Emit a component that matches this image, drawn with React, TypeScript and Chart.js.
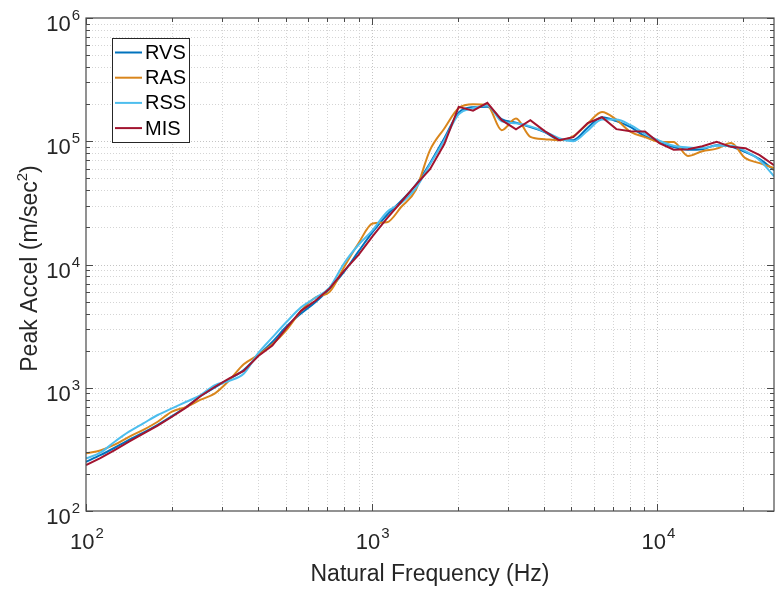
import React, { useEffect, useRef } from "react";
import { Chart, registerables } from "chart.js";

Chart.register(...registerables);

const FONT = "'Liberation Sans', Arial, Helvetica, sans-serif";

// Natural frequencies (Hz), 1/6-octave steps
const freqs = [100, 112.2, 126, 141.4, 158.7, 178.2, 200, 224.5, 252, 282.8, 317.5, 356.4, 400, 449, 504, 565.7, 635, 712.7, 800, 898, 1008, 1131, 1270, 1425, 1600, 1796, 2016, 2263, 2540, 2851, 3200, 3592, 4032, 4525, 5080, 5702, 6400, 7184, 8063, 9051, 10159, 11404, 12800, 14368, 16127, 18102, 20319, 22807, 25600];

// Peak acceleration (m/sec^2)
const rvs = [251, 284, 326, 377, 432, 501, 589, 701, 857, 1008, 1176, 1390, 1818, 2350, 3150, 4000, 4950, 6350, 8700, 12700, 18400, 25200, 32900, 44000, 66400, 105900, 170600, 189100, 190900, 151100, 141600, 130100, 118600, 103000, 102100, 128900, 156700, 145600, 130100, 109900, 99300, 89600, 85500, 86300, 93000, 90400, 81600, 71600, 58300];
const ras = [294, 310, 345, 400, 455, 530, 640, 700, 800, 900, 1150, 1550, 1840, 2250, 2950, 4200, 5400, 6000, 9500, 14800, 21500, 22000, 29400, 40000, 84700, 127000, 186000, 200000, 196000, 123000, 153000, 108600, 104000, 102000, 110000, 139000, 173000, 149700, 119000, 108000, 98900, 98400, 76000, 83100, 87100, 96600, 72900, 66400, 60500];
const rss = [267, 297, 365, 440, 514, 601, 681, 770, 873, 1052, 1140, 1300, 1900, 2560, 3430, 4490, 5370, 6520, 10200, 14400, 19000, 26700, 31600, 41400, 65000, 102000, 165000, 185000, 195000, 145000, 140000, 132000, 120000, 106000, 100000, 122000, 150000, 150000, 135000, 115000, 101000, 92000, 89000, 88000, 92000, 92000, 83000, 70000, 52000];
const mis = [236, 268, 312, 365, 425, 492, 582, 693, 857, 1019, 1191, 1370, 1800, 2200, 3070, 4210, 5080, 6400, 8890, 11900, 17000, 23700, 32300, 44000, 59400, 95000, 190000, 177000, 204800, 148300, 125000, 148300, 120800, 102000, 108000, 140300, 156700, 125400, 120800, 120000, 96600, 85500, 86300, 91200, 98900, 90100, 87900, 77100, 64000];

const seriesNames = ["RVS", "RAS", "RSS", "MIS"];
const seriesColors = ["#0072BD", "#D9861C", "#4DBEEE", "#A2142F"];

const X_MIN = 100;
const X_MAX = 25600;
const Y_MIN = 100;
const Y_MAX = 1000000;
const xDecades = [100, 1000, 10000];
const yDecades = [100, 1000, 10000, 100000, 1000000];
const xDecadeExps = ["2", "3", "4"];
const yDecadeExps = ["2", "3", "4", "5", "6"];
const minorMults = [2, 3, 4, 5, 6, 7, 8, 9];

const xTitle = "Natural Frequency (Hz)";
const yTitleMain = "Peak Accel (m/sec";
const yTitleSup = "2";
const yTitleEnd = ")";

const minorOf = (decades: number[], max: number) => {
  const out: number[] = [];
  decades.forEach((d) => minorMults.forEach((m) => { if (d * m < max) out.push(d * m); }));
  return out;
};
const xMinor = minorOf(xDecades, X_MAX);
const yMinor = minorOf(yDecades, Y_MAX);

const AXIS_COLOR = "#4a4a4a";
const TEXT_COLOR = "#262626";

const matlabPlugin = {
  id: "matlabAxes",
  beforeDatasetsDraw(chart: any) {
    const { ctx, chartArea: a, scales } = chart;
    const x = scales.x, y = scales.y;
    ctx.save();
    ctx.lineWidth = 1;
    ctx.setLineDash([1, 2]);
    const vline = (v: number, c: string) => {
      const px = Math.round(x.getPixelForValue(v)) + 0.5;
      if (px <= a.left + 1 || px >= a.right - 1) return;
      ctx.strokeStyle = c;
      ctx.beginPath(); ctx.moveTo(px, a.top); ctx.lineTo(px, a.bottom); ctx.stroke();
    };
    const hline = (v: number, c: string) => {
      const py = Math.round(y.getPixelForValue(v)) + 0.5;
      if (py <= a.top + 1 || py >= a.bottom - 1) return;
      ctx.strokeStyle = c;
      ctx.beginPath(); ctx.moveTo(a.left, py); ctx.lineTo(a.right, py); ctx.stroke();
    };
    xMinor.forEach((v) => vline(v, "#d4d4d4"));
    yMinor.forEach((v) => hline(v, "#d4d4d4"));
    xDecades.forEach((v) => vline(v, "#c4c4c4"));
    yDecades.forEach((v) => hline(v, "#c4c4c4"));
    ctx.restore();
  },
  afterDatasetsDraw(chart: any) {
    const { ctx, chartArea: a, scales } = chart;
    const x = scales.x, y = scales.y;
    ctx.save();
    // ticks
    ctx.strokeStyle = AXIS_COLOR;
    ctx.lineWidth = 1;
    ctx.setLineDash([]);
    const xt = (v: number, len: number) => {
      const px = Math.round(x.getPixelForValue(v)) + 0.5;
      ctx.beginPath();
      ctx.moveTo(px, a.bottom); ctx.lineTo(px, a.bottom - len);
      ctx.moveTo(px, a.top); ctx.lineTo(px, a.top + len);
      ctx.stroke();
    };
    const yt = (v: number, len: number) => {
      const py = Math.round(y.getPixelForValue(v)) + 0.5;
      ctx.beginPath();
      ctx.moveTo(a.left, py); ctx.lineTo(a.left + len, py);
      ctx.moveTo(a.right, py); ctx.lineTo(a.right - len, py);
      ctx.stroke();
    };
    xMinor.forEach((v) => xt(v, 4));
    xDecades.forEach((v) => xt(v, 7));
    yMinor.forEach((v) => yt(v, 4));
    yDecades.forEach((v) => yt(v, 7));
    // box
    ctx.strokeStyle = AXIS_COLOR;
    ctx.lineWidth = 1.2;
    ctx.strokeRect(a.left, a.top, a.right - a.left, a.bottom - a.top);

    // tick labels
    ctx.fillStyle = TEXT_COLOR;
    ctx.textBaseline = "alphabetic";
    ctx.textAlign = "left";
    const pow = (exp: string, px: number, base: number, align: string) => {
      ctx.font = `22px ${FONT}`;
      const w10 = ctx.measureText("10").width;
      ctx.font = `15px ${FONT}`;
      const we = ctx.measureText(exp).width;
      const total = w10 + 1 + we;
      const left = align === "right" ? px - total : px - total / 2;
      ctx.font = `22px ${FONT}`;
      ctx.fillText("10", left, base);
      ctx.font = `15px ${FONT}`;
      ctx.fillText(exp, left + w10 + 1, base - 11);
    };
    yDecades.forEach((v, i) => {
      const py = y.getPixelForValue(v);
      pow(yDecadeExps[i], a.left - 6, py + 13, "right");
    });
    xDecades.forEach((v, i) => {
      const px = x.getPixelForValue(v);
      pow(xDecadeExps[i], px + 1, a.bottom + 38, "center");
    });

    // x title
    ctx.font = `23px ${FONT}`;
    ctx.textAlign = "center";
    ctx.fillText(xTitle, (a.left + a.right) / 2, a.bottom + 70);

    // y title
    ctx.save();
    ctx.translate(37, (a.top + a.bottom) / 2 + 4);
    ctx.rotate(-Math.PI / 2);
    ctx.textAlign = "left";
    ctx.font = `23px ${FONT}`;
    const wm = ctx.measureText(yTitleMain).width;
    const we2 = ctx.measureText(yTitleEnd).width;
    ctx.font = `15px ${FONT}`;
    const ws = ctx.measureText(yTitleSup).width;
    const tot = wm + ws + we2;
    let cx = -tot / 2;
    ctx.font = `23px ${FONT}`;
    ctx.fillText(yTitleMain, cx, 0);
    cx += wm;
    ctx.font = `15px ${FONT}`;
    ctx.fillText(yTitleSup, cx, -10);
    cx += ws;
    ctx.font = `23px ${FONT}`;
    ctx.fillText(yTitleEnd, cx, 0);
    ctx.restore();

    // legend
    const lx = 112.5, ly = 38.5, lw = 77, lh = 104;
    ctx.fillStyle = "#ffffff";
    ctx.fillRect(lx, ly, lw, lh);
    ctx.strokeStyle = "#262626";
    ctx.lineWidth = 1;
    ctx.strokeRect(lx, ly, lw, lh);
    ctx.font = `20px ${FONT}`;
    ctx.textAlign = "left";
    ctx.textBaseline = "middle";
    seriesNames.forEach((n, i) => {
      const yy = 52.5 + i * 25.2;
      ctx.strokeStyle = seriesColors[i];
      ctx.lineWidth = 2;
      ctx.beginPath(); ctx.moveTo(115, yy); ctx.lineTo(142, yy); ctx.stroke();
      ctx.fillStyle = "#000000";
      ctx.fillText(n, 145, yy + 1);
    });
    ctx.restore();
  },
};

export default function App() {
  const ref = useRef<HTMLCanvasElement>(null);
  useEffect(() => {
    const canvas = ref.current;
    if (!canvas) return;
    const seriesValues = [rvs, ras, rss, mis];
    const chart = new Chart(canvas, {
      type: "line",
      data: {
        datasets: seriesValues.map((vals, i) => ({
          label: seriesNames[i],
          data: vals.map((v, j) => ({ x: freqs[j], y: v })),
          borderColor: seriesColors[i],
          backgroundColor: seriesColors[i],
          borderWidth: 2,
          pointRadius: 0,
          fill: false,
          order: 4 - i,
          tension: i === 3 ? 0 : 0.35,
          cubicInterpolationMode: i === 3 ? "default" : "monotone",
        })),
      },
      options: {
        animation: false,
        responsive: false,
        maintainAspectRatio: false,
        layout: { padding: { left: 86, top: 18, right: 8, bottom: 79 } },
        scales: {
          x: { type: "logarithmic", min: X_MIN, max: X_MAX, display: false },
          y: { type: "logarithmic", min: Y_MIN, max: Y_MAX, display: false },
        },
        plugins: { legend: { display: false }, tooltip: { enabled: false } },
      },
      plugins: [matlabPlugin],
    } as any);
    return () => chart.destroy();
  }, []);
  return (
    <div style={{ position: "fixed", left: 0, top: 0, width: 782, height: 590, background: "#ffffff" }}>
      <canvas ref={ref} width={782} height={590} style={{ display: "block", width: 782, height: 590 }} />
    </div>
  );
}
